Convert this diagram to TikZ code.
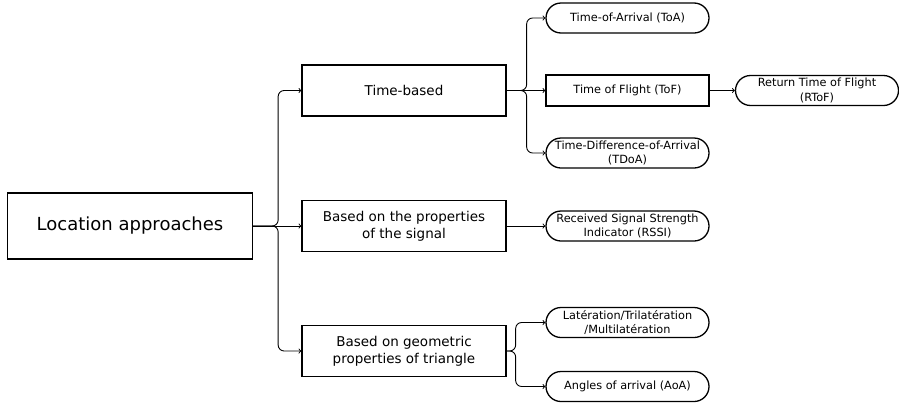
\documentclass[tikz,border=0pt]{standalone}
\usepackage{fontspec}
\setmainfont{DejaVu Sans}
\usepackage{tikz}

\begin{document}
\begin{tikzpicture}[x=1pt,y=-1pt,
  box/.style={draw,line width=1.3pt,align=center,inner sep=0pt},
  pill/.style={draw,line width=1.3pt,align=center,inner sep=0pt,rounded corners=15pt,
    minimum width=163pt,minimum height=30pt,font=\fontsize{11.3}{14.8}\selectfont},
  link/.style={->,line width=0.9pt,rounded corners=6pt}]
 \useasboundingbox (0,0) rectangle (899,405);
 \node[box,minimum width=245pt,minimum height=66pt,font=\fontsize{18}{22}\selectfont] (loc) at (130,226) {Location approaches};

 \node[box,minimum width=204pt,minimum height=51pt,font=\fontsize{13.5}{16.8}\selectfont] (time) at (404,90.5) {Time-based};
 \node[box,minimum width=204pt,minimum height=51pt,font=\fontsize{13.5}{16.8}\selectfont] (signal) at (404,226) {Based on the properties\\of the signal};
 \node[box,minimum width=204pt,minimum height=51pt,font=\fontsize{13.5}{16.8}\selectfont] (geo) at (404,351) {Based on geometric\\properties of triangle};

 \node[pill] (toa) at (627.5,18) {Time-of-Arrival (ToA)};
 \node[box,minimum width=163pt,minimum height=31pt,font=\fontsize{11.3}{14.8}\selectfont] (tof) at (627.5,90.5) {Time of Flight (ToF)};
 \node[pill] (rtof) at (817,90.5) {Return Time of Flight\\(RToF)};
 \node[pill] (tdoa) at (627.5,153) {Time-Difference-of-Arrival\\(TDoA)};
 \node[pill] (rssi) at (627.5,226) {Received Signal Strength\\Indicator (RSSI)};
 \node[pill] (lat) at (627.5,322.5) {Latération/Trilatération\\/Multilatération};
 \node[pill] (aoa) at (627.5,386.5) {Angles of arrival (AoA)};

 % root to the three families
 \draw[link] (loc.east) -- ++(25,0) |- (time.west);
 \draw[link] (loc.east) -- (signal.west);
 \draw[link] (loc.east) -- ++(25,0) |- (geo.west);

 % time-based methods
 \draw[link] (time.east) -- ++(20,0) |- (toa.west);
 \draw[link] (time.east) -- (tof.west);
 \draw[link] (time.east) -- ++(20,0) |- (tdoa.west);
 \draw[link] (tof.east) -- (rtof.west);

 \draw[link] (signal.east) -- (rssi.west);

 \draw[link] (geo.east) -- ++(9,0) |- (lat.west);
 \draw[link] (geo.east) -- ++(9,0) |- (aoa.west);
\end{tikzpicture}
\end{document}
